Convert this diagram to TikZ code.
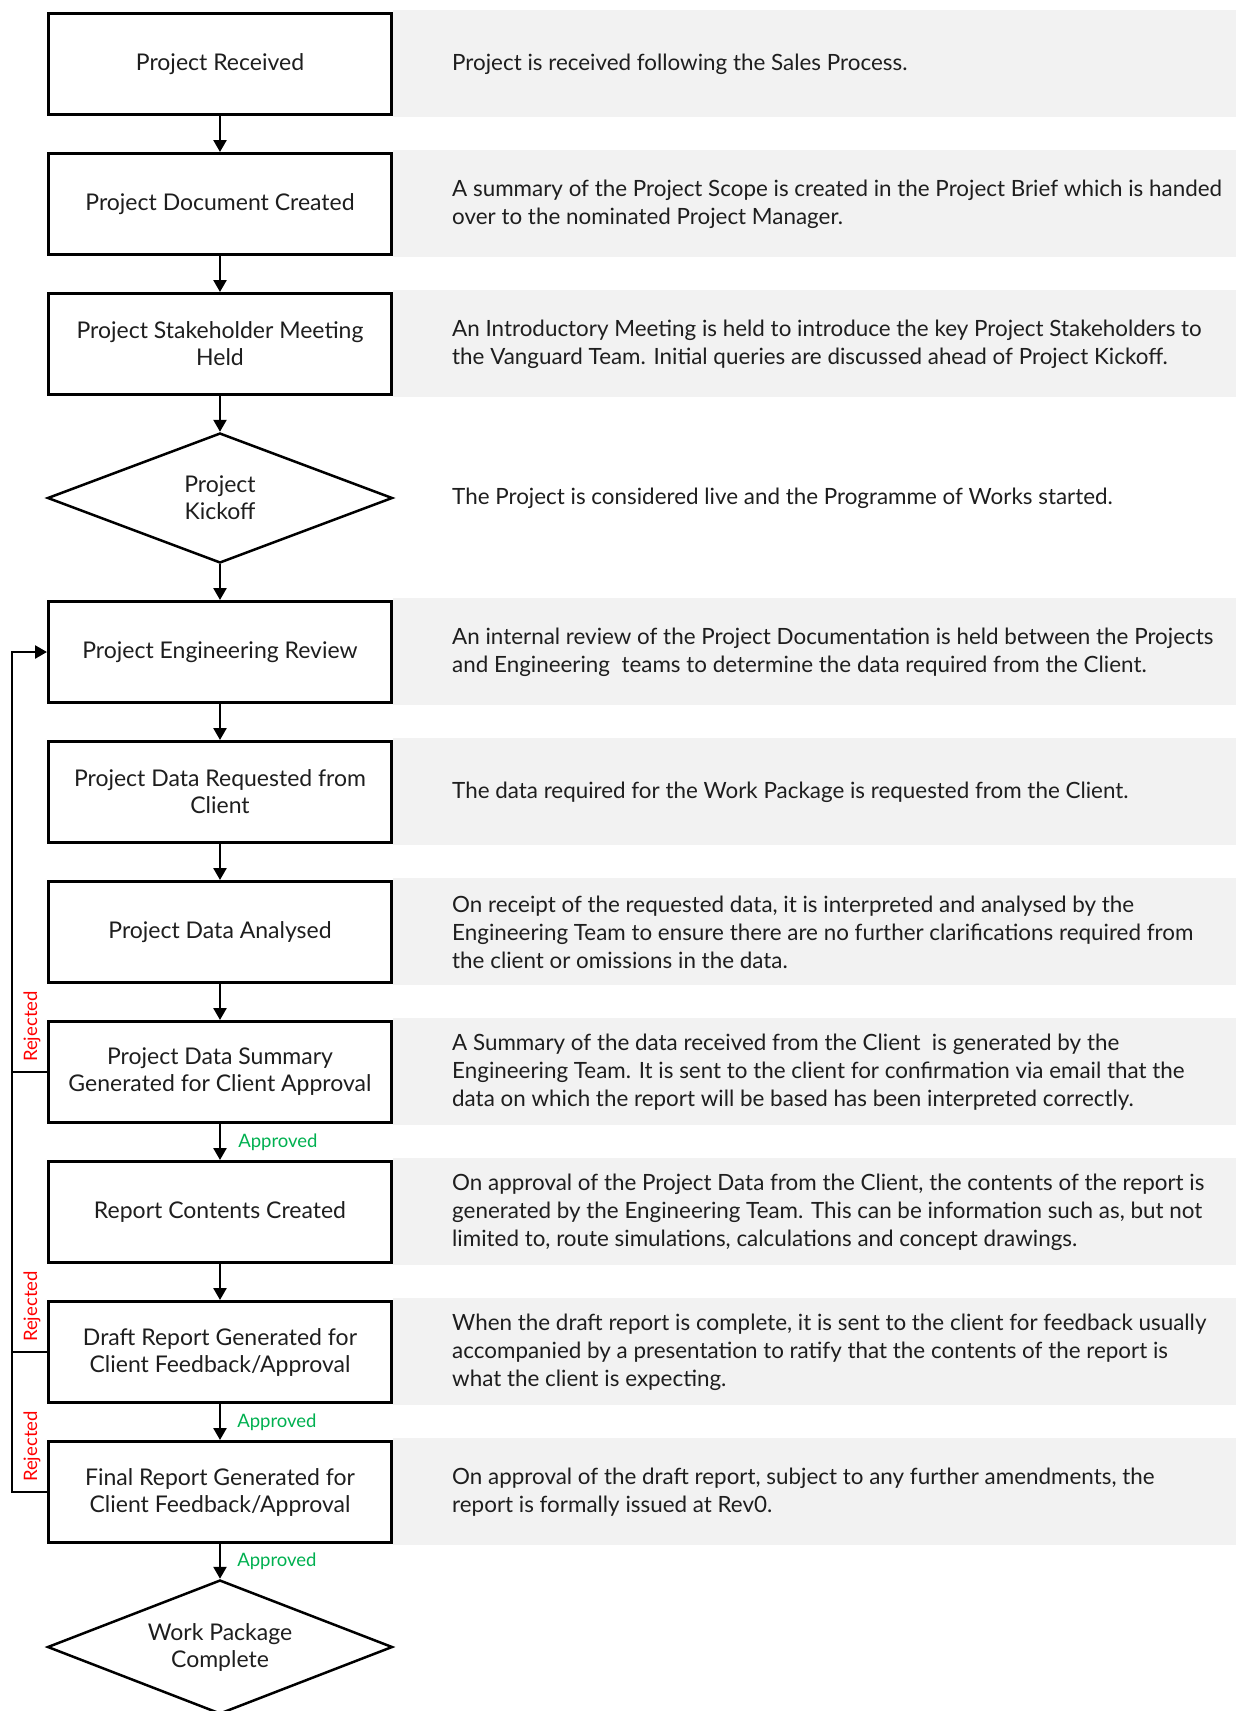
\documentclass[tikz,border=0pt]{standalone}
\usepackage{fontspec}
\setmainfont{Lato}
\usetikzlibrary{arrows.meta,shapes.geometric,calc}
\definecolor{band}{HTML}{F2F2F2}
\definecolor{okgreen}{HTML}{00B050}
\definecolor{rejred}{HTML}{FF0000}
\definecolor{txt}{HTML}{1E1E1E}
\begin{document}
\begin{tikzpicture}[x=1pt,y=-1pt,
  stepbox/.style={draw=black, line width=3pt, minimum width=343pt, minimum height=101pt,
    align=center, font=\fontsize{23}{27}\selectfont, text=txt, inner sep=0pt},
  decide/.style={diamond, aspect=2.6, draw=black, line width=2.5pt, minimum width=345pt, minimum height=130pt,
    align=center, font=\fontsize{23}{27}\selectfont, text=txt, inner sep=0pt},
  desc/.style={anchor=west, align=left, font=\fontsize{22.4}{28}\selectfont, text=txt, inner sep=0pt},
  flow/.style={line width=2.5pt, -{Triangle[width=13pt,length=12pt]}},
  link/.style={line width=2.5pt},
  ok/.style={text=okgreen, font=\fontsize{18.5}{20}\selectfont, anchor=west, inner sep=0pt},
  rej/.style={text=rejred, font=\fontsize{18.5}{20}\selectfont, rotate=90, anchor=west, inner sep=0pt}]
\useasboundingbox (0,0) rectangle (1236,1711);
\clip (0,0) rectangle (1236,1711);

% grey description bands
\foreach \t in {12,152,292,600,740,880,1020,1160,1300,1440}{
  \fill[band] (393,\t-2) rectangle (1236,\t+105);
}

% flow boxes
\node[stepbox] (b1) at (220,64) {Project Received};
\node[stepbox] (b2) at (220,204) {Project Document Created};
\node[stepbox] (b3) at (220,344) {Project Stakeholder Meeting\\Held};
\node[decide] (kick) at (220,498) {Project\\Kickoff};
\node[stepbox] (b5) at (220,652) {Project Engineering Review};
\node[stepbox] (b6) at (220,792) {Project Data Requested from\\Client};
\node[stepbox] (b7) at (220,932) {Project Data Analysed};
\node[stepbox] (b8) at (220,1072) {Project Data Summary\\Generated for Client Approval};
\node[stepbox] (b9) at (220,1212) {Report Contents Created};
\node[stepbox] (b10) at (220,1352) {Draft Report Generated for\\Client Feedback/Approval};
\node[stepbox] (b11) at (220,1492) {Final Report Generated for\\Client Feedback/Approval};
\node[decide, minimum height=134pt] (done) at (220,1647) {Work Package\\Complete};

% descriptions
\node[desc] (d1) at (452,64) {Project is received following the Sales Process.};
\node[desc] (d2) at (452,204) {A summary of the Project Scope is created in the Project Brief which is handed\\over to the nominated Project Manager.};
\node[desc] (d3) at (452,344) {An Introductory Meeting is held to introduce the key Project Stakeholders to\\the Vanguard Team. Initial queries are discussed ahead of Project Kickoff.};
\node[desc] (d4) at (452,498) {The Project is considered live and the Programme of Works started.};
\node[desc] (d5) at (452,652) {An internal review of the Project Documentation is held between the Projects\\and Engineering\ \ teams to determine the data required from the Client.};
\node[desc] (d6) at (452,792) {The data required for the Work Package is requested from the Client.};
\node[desc] (d7) at (452,932) {On receipt of the requested data, it is interpreted and analysed by the\\Engineering Team to ensure there are no further clarifications required from\\the client or omissions in the data.};
\node[desc] (d8) at (452,1072) {A Summary of the data received from the Client\ \ is generated by the\\Engineering Team. It is sent to the client for confirmation via email that the\\data on which the report will be based has been interpreted correctly.};
\node[desc] (d9) at (452,1212) {On approval of the Project Data from the Client, the contents of the report is\\generated by the Engineering Team. This can be information such as, but not\\limited to, route simulations, calculations and concept drawings.};
\node[desc] (d10) at (452,1352) {When the draft report is complete, it is sent to the client for feedback usually\\accompanied by a presentation to ratify that the contents of the report is\\what the client is expecting.};
\node[desc] (d11) at (452,1492) {On approval of the draft report, subject to any further amendments, the\\report is formally issued at Rev0.};

% main flow
\draw[flow] (b1.south) -- (b2.north);
\draw[flow] (b2.south) -- (b3.north);
\draw[flow] (b3.south) -- (kick.north);
\draw[flow] (kick.south) -- (b5.north);
\draw[flow] (b5.south) -- (b6.north);
\draw[flow] (b6.south) -- (b7.north);
\draw[flow] (b7.south) -- (b8.north);
\draw[flow] (b8.south) -- node[ok, xshift=17pt] (a1) {Approved} (b9.north);
\draw[flow] (b9.south) -- (b10.north);
\draw[flow] (b10.south) -- node[ok, xshift=16pt] (a2) {Approved} (b11.north);
\draw[flow] (b11.south) -- node[ok, xshift=16pt] (a3) {Approved} (done.north);

% rejection loop
\coordinate (loop) at (12,0);
\draw[flow] (b11.west) -- (b11.west -| loop) -- (b5.west -| loop) -- (b5.west);
\draw[link] (b8.west) -- (b8.west -| loop);
\draw[link] (b10.west) -- (b10.west -| loop);

\node[rej] (r1) at (32,1062) {Rejected};
\node[rej] (r2) at (32,1342) {Rejected};
\node[rej] (r3) at (32,1482) {Rejected};
\end{tikzpicture}
\end{document}
